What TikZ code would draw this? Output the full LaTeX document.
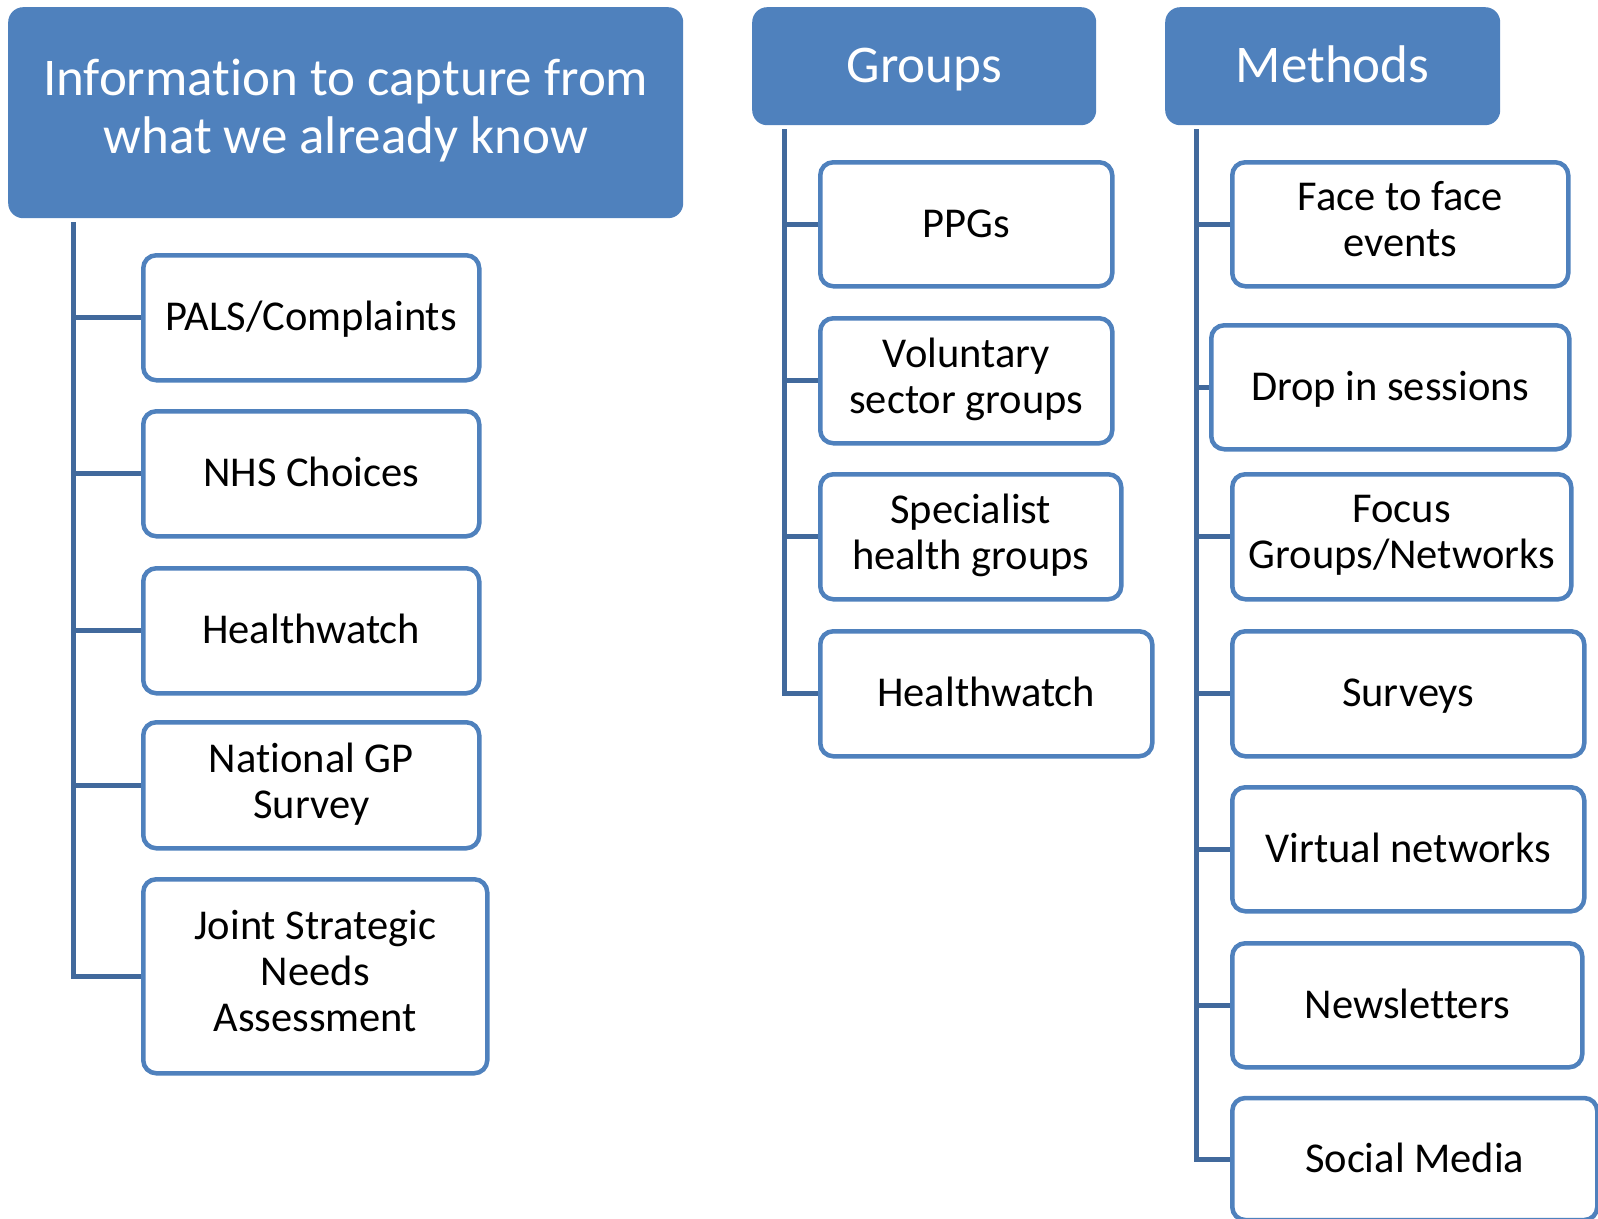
\documentclass[tikz,border=0pt]{standalone}
\usepackage{fontspec}
\setmainfont{Carlito}[Ligatures={CommonOff,ContextualOff}]
\definecolor{accent}{HTML}{4F81BD}
\definecolor{linkline}{HTML}{41699C}
% line struts that set the vertical placement of box texts
\newcommand{\bodystrut}{\rule[-10pt]{0pt}{46pt}}
\newcommand{\headstrut}{\rule[-12pt]{0pt}{57pt}}
\newcommand{\headstrutlow}{\rule[-10pt]{0pt}{57pt}}
% keeps "t" and "i" as separate letters
\newcommand{\tsep}{t\kern0pt i}
\begin{document}
\begin{tikzpicture}[x=1pt,y=-1pt,
  header/.style={fill=accent, draw=none, rounded corners=15pt, anchor=north west,
    inner sep=0pt, text=white, align=center, font=\fontsize{53}{58}\selectfont,
    execute at begin node=\headstrut, execute at end node=\headstrut},
  item/.style={fill=white, draw=accent, line width=4.5pt, rounded corners=13pt, anchor=north west,
    inner sep=0pt, text=black, align=center, font=\fontsize{42.5}{46}\selectfont,
    execute at begin node=\bodystrut, execute at end node=\bodystrut},
  conn/.style={draw=linkline, line width=5pt}]
\useasboundingbox (0,0) rectangle (1598,1218);
\clip (0,0) rectangle (1598,1218);

% --- column 1: information already held ---
\node[header, minimum width=675pt, minimum height=211pt,
  execute at begin node=\headstrutlow, execute at end node=\headstrut] (h1) at (8,7)
  {Informa\tsep on to capture from\\what we already know};
\coordinate (t1) at (73,222);
\node[item, minimum width=336pt, minimum height=125pt] (pals) at (141,253) {PALS/Complaints};
\node[item, minimum width=336pt, minimum height=125pt] (nhs) at (141,409) {NHS Choices};
\node[item, minimum width=336pt, minimum height=125pt] (hw1) at (141,566) {Healthwatch};
\node[item, minimum width=336pt, minimum height=126pt] (gp) at (141,720) {Na\tsep onal GP\\Survey};
\node[item, minimum width=344pt, minimum height=194pt] (jsna) at (141,877) {Joint Strategic\\Needs\\Assessment};
\foreach \b in {pals,nhs,hw1,gp,jsna} \draw[conn] (t1) |- (\b.west);

% --- column 2: groups ---
\node[header, minimum width=344pt, minimum height=118pt] (h2) at (752,7) {Groups};
\coordinate (t2) at (784,129);
\node[item, minimum width=292pt, minimum height=124pt] (ppg) at (818,160) {PPGs};
\node[item, minimum width=292pt, minimum height=125pt] (vol) at (818,316) {Voluntary\\sector groups};
\node[item, minimum width=301pt, minimum height=125pt] (spec) at (818,472) {Specialist\\health groups};
\node[item, minimum width=332pt, minimum height=125pt] (hw2) at (818,629) {Healthwatch};
\foreach \b in {ppg,vol,spec,hw2} \draw[conn] (t2) |- (\b.west);

% --- column 3: methods ---
\node[header, minimum width=335pt, minimum height=118pt] (h3) at (1165,7) {Methods};
\coordinate (t3) at (1196,129);
\node[item, minimum width=336pt, minimum height=124pt] (face) at (1230,160) {Face to face\\events};
\node[item, minimum width=358pt, minimum height=124pt] (drop) at (1209,323) {Drop in sessions};
\node[item, minimum width=339pt, minimum height=125pt] (focus) at (1230,472) {Focus\\Groups/Networks};
\node[item, minimum width=352pt, minimum height=125pt] (surv) at (1230,629) {Surveys};
\node[item, minimum width=352pt, minimum height=124pt] (virt) at (1230,785) {Virtual networks};
\node[item, minimum width=350pt, minimum height=124pt] (news) at (1230,941) {Newsletters};
\node[item, minimum width=365pt, minimum height=122pt, anchor=west] (soc) at (1230,1159) {Social Media};
\foreach \b in {face,drop,focus,surv,virt,news,soc} \draw[conn] (t3) |- (\b.west);
\end{tikzpicture}
\end{document}
